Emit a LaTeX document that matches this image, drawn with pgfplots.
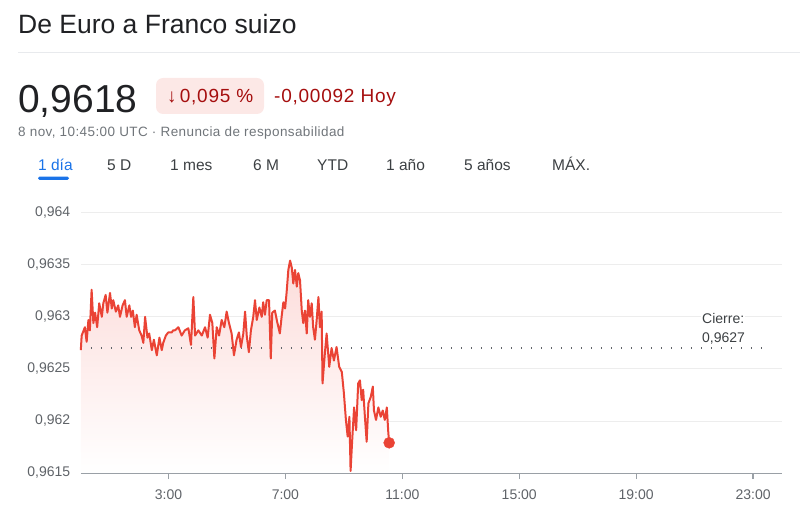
\documentclass[border=0pt]{standalone}
\usepackage{fontspec}
\setmainfont{Liberation Sans}
\usepackage{pgfplots}
\usepackage{pgfplotstable}
\pgfplotsset{compat=1.18}
\definecolor{gred}{HTML}{EA4335}
\definecolor{dred}{HTML}{A50E0E}
\definecolor{badge}{HTML}{FCE8E6}
\definecolor{gblue}{HTML}{1A73E8}
\definecolor{tgray}{HTML}{5F6368}
\definecolor{lgray}{HTML}{70757A}
\definecolor{dgray}{HTML}{3C4043}
\definecolor{blk}{HTML}{202124}
\definecolor{gridc}{HTML}{EDEDED}
\definecolor{sepc}{HTML}{E8EAED}
\definecolor{axisc}{HTML}{9AA0A6}
\definecolor{pinkfill}{HTML}{FCDCDA}

\pgfplotstableread{
h v
0.00 0.96268
0.03 0.96282
0.14 0.96290
0.20 0.96276
0.26 0.96297
0.31 0.96287
0.37 0.96326
0.43 0.96294
0.49 0.96304
0.56 0.96290
0.63 0.96313
0.72 0.96300
0.77 0.96313
0.85 0.96321
0.91 0.96304
1.00 0.96323
1.06 0.96308
1.11 0.96316
1.20 0.96305
1.28 0.96311
1.34 0.96300
1.43 0.96311
1.51 0.96316
1.57 0.96300
1.66 0.96311
1.72 0.96300
1.78 0.96306
1.85 0.96290
1.91 0.96302
2.00 0.96287
2.08 0.96282
2.14 0.96275
2.20 0.96300
2.28 0.96280
2.34 0.96284
2.43 0.96268
2.50 0.96278
2.60 0.96263
2.69 0.96280
2.77 0.96268
2.82 0.96275
2.91 0.96282
2.99 0.96285
3.11 0.96285
3.16 0.96287
3.22 0.96287
3.34 0.96290
3.45 0.96282
3.56 0.96287
3.68 0.96289
3.77 0.96273
3.85 0.96319
3.91 0.96282
4.02 0.96287
4.14 0.96282
4.25 0.96290
4.34 0.96280
4.42 0.96302
4.50 0.96294
4.57 0.96260
4.65 0.96290
4.73 0.96282
4.82 0.96297
4.91 0.96290
4.99 0.96305
5.07 0.96294
5.16 0.96284
5.24 0.96263
5.33 0.96278
5.41 0.96285
5.48 0.96271
5.56 0.96284
5.62 0.96305
5.68 0.96281
5.75 0.96266
5.82 0.96287
5.90 0.96300
5.96 0.96316
6.02 0.96297
6.11 0.96309
6.19 0.96300
6.24 0.96314
6.30 0.96302
6.36 0.96316
6.44 0.96316
6.50 0.96260
6.55 0.96304
6.64 0.96306
6.72 0.96295
6.81 0.96284
6.87 0.96300
6.93 0.96314
6.99 0.96308
7.04 0.96323
7.10 0.96345
7.16 0.96354
7.22 0.96347
7.27 0.96332
7.33 0.96345
7.39 0.96329
7.44 0.96342
7.50 0.96335
7.56 0.96306
7.61 0.96294
7.67 0.96306
7.73 0.96284
7.78 0.96316
7.84 0.96300
7.90 0.96313
7.95 0.96290
8.01 0.96278
8.07 0.96297
8.13 0.96319
8.18 0.96290
8.24 0.96305
8.27 0.96236
8.35 0.96265
8.41 0.96284
8.50 0.96252
8.58 0.96270
8.66 0.96258
8.75 0.96271
8.84 0.96252
8.93 0.96247
9.00 0.96227
9.07 0.96201
9.13 0.96185
9.19 0.96204
9.23 0.96152
9.28 0.96179
9.35 0.96213
9.42 0.96191
9.49 0.96236
9.55 0.96239
9.61 0.96220
9.66 0.96230
9.72 0.96204
9.78 0.96180
9.84 0.96217
9.92 0.96223
9.99 0.96233
10.03 0.96210
10.10 0.96201
10.18 0.96213
10.26 0.96204
10.33 0.96210
10.40 0.96201
10.47 0.96213
10.52 0.96189
10.55 0.96179
}\eurchf

\begin{document}
\begin{tikzpicture}
\path[use as bounding box] (0pt,0pt) rectangle (800pt,517pt);
% header
\node[anchor=base west, inner sep=0, text=blk, font=\fontsize{26.5}{30}\selectfont] at (18pt,483pt) {De Euro a Franco suizo};
\draw[sepc, line width=1pt] (18pt,464pt) -- (800pt,464pt);
\node[anchor=base west, inner sep=0, text=blk, font=\fontsize{39}{44}\selectfont] at (18pt,404pt) {0,9618};
\fill[badge, rounded corners=7pt] (156pt,403pt) rectangle (264pt,439pt);
\node[anchor=base west, inner sep=0, text=dred, font=\fontsize{19}{21}\selectfont\addfontfeature{LetterSpace=4}] at (167pt,414.5pt) {↓\,0,095 \%};
\node[anchor=base west, inner sep=0, text=dred, font=\fontsize{19}{21}\selectfont\addfontfeature{LetterSpace=4}] at (274pt,414.5pt) {-0,00092 Hoy};
\node[anchor=base west, inner sep=0, text=lgray, font=\fontsize{13.5}{15}\selectfont\addfontfeature{LetterSpace=3}] at (18pt,380pt) {8 nov, 10:45:00 UTC · Renuncia de responsabilidad};
% tabs
\begin{scope}[every node/.style={anchor=base west, inner sep=0, text=dgray, font=\fontsize{15.5}{18}\selectfont}]
\node[text=gblue] at (38pt,346.5pt) {1 día};
\node at (107pt,346.5pt) {5 D};
\node at (170pt,346.5pt) {1 mes};
\node at (253pt,346.5pt) {6 M};
\node at (317pt,346.5pt) {YTD};
\node at (386pt,346.5pt) {1 año};
\node at (464pt,346.5pt) {5 años};
\node at (552pt,346.5pt) {MÁX.};
\end{scope}
\fill[gblue, rounded corners=1.5pt] (38pt,337pt) rectangle (69pt,340.3pt);
% chart
\begin{axis}[
  at={(80.8pt,44pt)}, anchor=south west,
  scale only axis, width=701.5pt, height=260.3pt,
  xmin=0, xmax=24, ymin=0.9615, ymax=0.964,
  x axis line style={draw=none},
  y axis line style={draw=none},
  clip=false,
  xtick={3,7,11,15,19,23},
  xticklabels={3:00,7:00,11:00,15:00,19:00,23:00},
  xtick pos=bottom,
  tick align=outside,
  major tick length=6pt,
  xtick style={draw=axisc, line width=1.2pt},
  ytick={0.9615,0.962,0.9625,0.963,0.9635,0.964},
  yticklabels={{0,9615},{0,962},{0,9625},{0,963},{0,9635},{0,964}},
  ytick style={draw=none},
  ymajorgrids,
  grid style={gridc, line width=0.8pt},
  tick label style={font=\fontsize{14}{16}\selectfont, text=tgray},
  xticklabel style={yshift=-7pt},
  yticklabel style={xshift=-1pt},
]
\addplot[draw=none, top color=pinkfill, bottom color=white, forget plot] table[x=h, y=v] {\eurchf} -- (axis cs:10.55,0.9615) -- (axis cs:0,0.9615) -- cycle;
\addplot[axisc, line width=1pt, forget plot] coordinates {(0,0.9615) (24,0.9615)};
\addplot[tgray, line width=1.3pt, dash pattern=on 1.2pt off 8.8pt, forget plot] coordinates {(0,0.9627) (23.3,0.9627)};
\addplot[gred, line width=2pt, line join=round, forget plot] table[x=h, y=v] {\eurchf};
\addplot[only marks, mark=*, mark size=5.5pt, gred, forget plot] coordinates {(10.55,0.96179)};
\end{axis}
\node[anchor=base west, inner sep=1pt, fill=white, text=dgray, font=\fontsize{14}{16}\selectfont] at (701pt,193pt) {Cierre:};
\node[anchor=base west, inner sep=1pt, text=dgray, font=\fontsize{14}{16}\selectfont] at (701pt,174pt) {0,9627};
\end{tikzpicture}
\end{document}
